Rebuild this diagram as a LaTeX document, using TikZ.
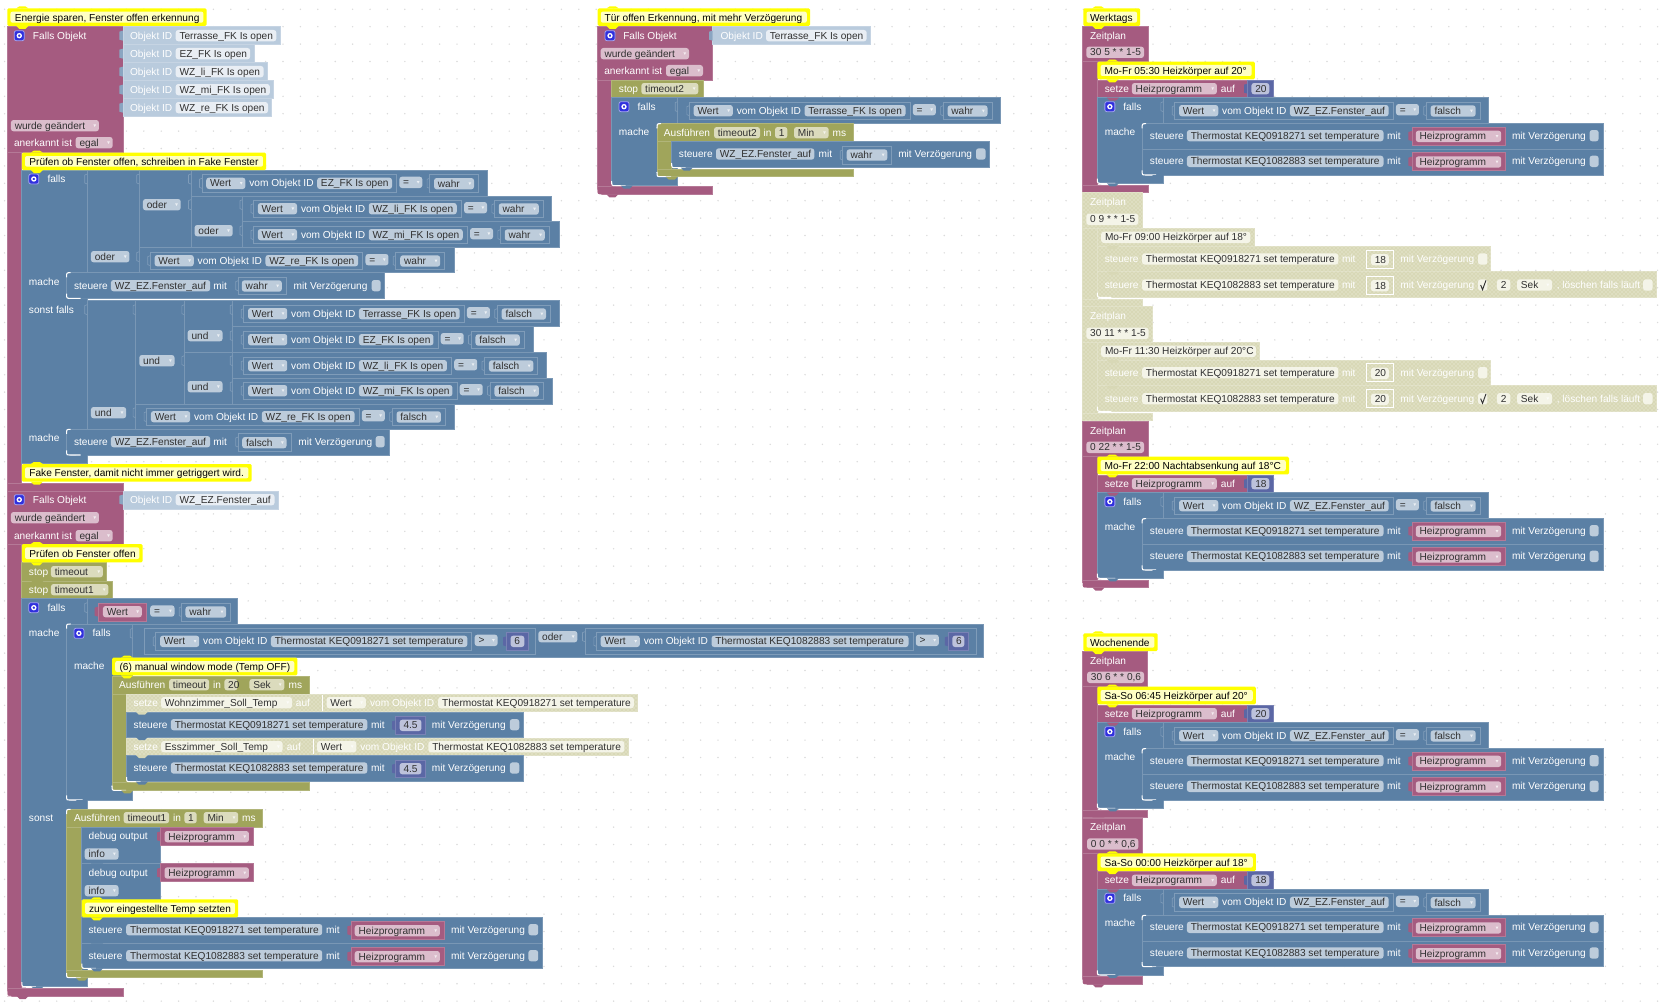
\documentclass[tikz,border=0pt]{standalone}
\usepackage{fontspec}
\usetikzlibrary{patterns}
\setmainfont{Liberation Sans}
\definecolor{pk}{HTML}{A55B80}
\definecolor{bl}{HTML}{5B80A5}
\definecolor{ol}{HTML}{A0A55B}
\definecolor{nm}{HTML}{5B67A5}
\definecolor{oid}{HTML}{B9CBDD}
\definecolor{dis}{HTML}{D8D8B6}
\definecolor{flB}{HTML}{BDCCDB}
\definecolor{flP}{HTML}{DBBDCC}
\definecolor{flO}{HTML}{DBDBBD}
\definecolor{flD}{HTML}{F4F4E8}
\definecolor{flI}{HTML}{E9EEF4}
\definecolor{flN}{HTML}{BDC2DB}
\definecolor{cmY}{HTML}{FFFF00}
\definecolor{cmI}{HTML}{FFFFC4}
\definecolor{ink}{HTML}{303030}
\definecolor{gearc}{HTML}{3030DD}
\colorlet{lin}{bl!78!white}
\tikzset{
  every node/.style={font=\fontsize{7.6}{9}\selectfont},
  tx/.style={anchor=mid west,inner sep=0pt,text=white},
  fx/.style={anchor=mid west,inner sep=0pt,text=ink},
  blk/.style={fill=#1,draw=#1!82!white,line width=.5pt},
  fine/.style={draw=#1,line width=.5pt},
  fld/.style={fill=#1,rounded corners=2pt}
}
\newcount\nc
\newcommand\Nid{\global\advance\nc by 1 }
\newcommand\Bk[5]{\path[blk=#1] (#2,#3) rectangle (#4,#5);}
\newcommand\BD[4]{\path[blk=dis] (#1,#2) rectangle (#3,#4);\fill[pattern=crosshatch dots,pattern color=flD] (#1,#2) rectangle (#3,#4);}
\newcommand\Tx[3]{\Nid\node[tx] (n\the\nc) at (#1,#2) {#3};}
\newcommand\Fl[4]{\path[fld=#1] (#2,#4-17) rectangle (#3,#4+17);}
\newcommand\Fd[5]{\Fl{#1}{#2}{#3}{#4}\Nid\node[fx] (n\the\nc) at ({#2+3.6*\zs},#4) {#5};}
\newcommand\Dd[5]{\Fd{#1}{#2}{#3}{#4}{#5}\fill[white,opacity=.7] ({#3-5.6*\zs},#4-4) -- ({#3-2.8*\zs},#4-4) -- ({#3-4.2*\zs},#4+4) -- cycle;}
\newcommand\Tb[3]{\fill[#1] (#2,#3-15) -- ({#2-3.5*\zs},#3-12) -- ({#2-3.5*\zs},#3+12) -- (#2,#3+15) -- cycle;}
\newcommand\Tk[2]{\draw[lin,line width=.5pt] (#1,#2-15) -- ({#1-2.5*\zs},#2-12) -- ({#1-2.5*\zs},#2+12) -- (#1,#2+15);}
\newcommand\Nt[3]{\fill[#1] ({#2-6*\zs},#3) -- ({#2-3*\zs},#3+9) -- ({#2+3*\zs},#3+9) -- ({#2+6*\zs},#3) -- cycle;}
\newcommand\Wc[3]{\fill[#1] (#2,#3-14) .. controls (#2,#3) .. ({#2+4*\zs},#3) -- ({#2+4*\zs},#3+2) -- ({#2-.6*\zs},#3+2) -- ({#2-.6*\zs},#3-14) -- cycle;}
\newcommand\Rc[4]{\Wc{#1}{#2}{#3}\draw[white,line width=.8pt] (#2,#3-14) .. controls (#2,#3) .. ({#2+4*\zs},#3) -- ({#2+#4*\zs},#3);}
\newcommand\Rt[3]{\fill[#1] (#2,#3+14) .. controls (#2,#3) .. ({#2+4*\zs},#3) -- ({#2+4*\zs},#3-2) -- ({#2-.6*\zs},#3-2) -- ({#2-.6*\zs},#3+14) -- cycle;
  \draw[white,line width=.8pt] (#2,#3+14) .. controls (#2,#3) .. ({#2+4*\zs},#3);}
\newcommand\Gr[2]{\path[fill=gearc,draw=gearc!45!white,line width=.6pt,rounded corners=1.5pt] ({#1-5*\zs},#2-15) rectangle ({#1+5*\zs},#2+15);
  \draw[white,line width=1pt] (#1,#2) circle (1.5pt);}
\newcommand\Cm[6]{\path[fill=cmY,rounded corners=1pt] (#1,#2) rectangle (#3,#4);
  \fill[cmY] ({#1+15*\zs-6*\zs},#2) -- ({#1+15*\zs-3*\zs},#2-6) -- ({#1+15*\zs+3*\zs},#2-6) -- ({#1+15*\zs+6*\zs},#2) -- cycle;
  \Nt{cmY}{#1+15*\zs}{#4}
  \path[fill=cmI,rounded corners=1.5pt] ({#1+3.2*\zs},#2+10) rectangle ({#3-3.2*\zs},#4-10);
  \Nid\node[fx,text=black] (n\the\nc) at ({#1+#6*\zs},{(#2+#4)/2+1}) {#5};}
% condition: row-start x, centre y, object, width px, operator
\newcommand\CndH[5]{%
  \pgfmathsetmacro\oL{#1+126.2*\zs}\pgfmathsetmacro\oR{\oL+#4*\zs}%
  \pgfmathsetmacro\bR{\oR+4.4*\zs}\pgfmathsetmacro\eL{\bR+2.9*\zs}%
  \pgfmathsetmacro\eR{\eL+23*\zs}\pgfmathsetmacro\vL{\eR+11.7*\zs}%
  \draw[fine=lin] ({#1+11*\zs},#2-26) rectangle (\bR,#2+26);
  \Tk{#1+11*\zs}{#2}
  \Dd{flB}{#1+15.3*\zs}{#1+54.5*\zs}{#2}{Wert}
  \Tx{#1+58.2*\zs}{#2}{vom Objekt ID}
  \Fd{flB}{\oL}{\oR}{#2}{#3}
  \Dd{flB}{\eL}{\eR}{#2-3}{#5}}
\newcommand\Cnd[7]{\CndH{#1}{#2}{#3}{#4}{#5}%
  \pgfmathsetmacro\vR{\vL+#7*\zs}%
  \draw[fine=lin] ({\vL-4.4*\zs},#2-26) rectangle ({\vR+4.4*\zs},#2+26);
  \Tk{\vL-4.4*\zs}{#2}
  \Dd{flB}{\vL}{\vR}{#2+1}{#6}}
\newcommand\Num[4]{\Tb{nm}{#1}{#3}\Bk{nm}{#1}{#3-26}{#2}{#3+26}\Fd{flN}{#1+4*\zs}{#2-4*\zs}{#3}{#4}}
\newcommand\PV[4]{\Tb{pk}{#1}{#3}\Bk{pk}{#1}{#3-27}{#2}{#3+27}\Dd{flP}{#1+3.8*\zs}{#2-4.5*\zs}{#3+1}{#4}}
\newcommand\TK{Thermostat KEQ0918271 set temperature}
\newcommand\TL{Thermostat KEQ1082883 set temperature}
\newcommand\FA{WZ\_EZ.Fenster\_auf}
\newcommand\HP{Heizprogramm}
\newcommand\Oid[4]{\Bk{oid}{338}{#1-27}{#2}{#1+27}\Tb{bl!50!oid}{338}{#1}\Tx{357}{#1}{Objekt ID}\Fd{flI}{483}{#3}{#1}{#4}}
% active steuere row in the right column
\newcommand\SA[2]{\pgfmathsetmacro\yc{#1+36}%
  \Bk{bl}{190}{#1}{1405}{#1+77}
  \Tx{210}{\yc}{steuere}\Fd{flB}{308}{826}{\yc}{#2}\Tx{835}{\yc}{mit}
  \PV{901}{1148}{\yc+1}{\HP}
  \Tx{1164}{\yc}{mit Verzögerung}\Fl{flB}{1369}{1393}{\yc}}
% active group: T, head x2, field L, field R, cron, comment R, comment, value
\newcommand\Grp[8]{%
  \Bk{pk}{33}{#1-105}{#2}{#1}
  \Bk{pk}{33}{#1}{72}{#1+370}
  \Bk{pk}{33}{#1+370}{#2}{#1+393}
  \Tx{52}{#1-78}{Zeitplan}
  \Fd{flP}{#3}{#4}{#1-28}{#5}
  \Bk{pk}{72}{#1+55}{468}{#1+108}
  \Tx{91}{#1+81}{setze}\Dd{flP}{163}{387}{#1+81}{\HP}\Tx{397}{#1+81}{auf}
  \Tb{nm}{468}{#1+81}\Bk{nm}{468}{#1+55}{537}{#1+108}\Fd{flN}{478}{525}{#1+81}{#8}
  \Bk{bl}{72}{#1+108}{246}{#1+365}
  \Rc{pk}{72}{#1+365}{18}
  \Bk{bl}{246}{#1+108}{1103}{#1+186}
  \Gr{105}{#1+135}\Tx{140}{#1+135}{falls}
  \Tk{246}{#1+135}
  \Cnd{247}{#1+147}{\FA}{98.7}{=}{falsch}{45}
  \Tx{91}{#1+210}{mache}
  \SA{#1+186}{\TK}
  \Rt{bl}{190}{#1+186}
  \Nt{bl}{232}{#1+263}
  \SA{#1+263}{\TL}
  \Rc{bl}{190}{#1+340}{14}
  \Nt{bl}{232}{#1+340}
  \Nt{bl}{113}{#1+365}
  \Nt{pk}{75}{#1+393}
  \Nt{pk}{113}{#1+108}
  \Cm{72}{#1}{#6}{#1+53}{#7}{7}}
% disabled steuere row
\newcommand\DS[6]{%
  \BD{72}{#1}{#6}{#1+#2}
  \Tx{91}{#3}{steuere}\Fd{flD}{190}{707}{#3}{#4}\Tx{716}{#3}{mit}
  \draw[fine=white] (780,#3-27) rectangle (851,#3+27);
  \Fd{flD}{793}{840}{#3+2}{#5}
  \Tx{870}{#3}{mit Verzögerung}\Fl{flD}{1075}{1100}{#3}}
\newcommand\DG[9]{% T header-x2 fieldR cron commentR comment val row1y row2y
  \BD{33}{#1-107}{#2}{#1}
  \BD{33}{#1}{72}{#1+212}
  \BD{33}{#1+212}{#2}{#1+235}
  \Tx{52}{#1-80}{Zeitplan}
  \Fd{flD}{43}{#3}{#1-27}{#4}
  \BD{72}{#1}{#5}{#1+53}
  \Fd{flD}{82}{#5-10}{#1+27}{#6}
  \DS{#1+55}{75}{#8}{\TK}{#7}{1108}
  \DS{#1+130}{77}{#9}{\TL}{#7}{1545}
  \draw[line width=.7pt,ink] (1082,#9) -- (1087,#9+14) -- (1096,#9-14);
  \Fd{flD}{1125}{1160}{#9}{2}
  \Dd{flD}{1178}{1270}{#9}{Sek}
  \Tx{1282}{#9}{, löschen falls läuft}
  \Fl{flD}{1510}{1535}{#9}
  \Rc{dis}{72}{#1+207}{14}
  \Nt{dis}{113}{#1+53}\Nt{dis}{113}{#1+130}\Nt{dis}{75}{#1+235}}
\begin{document}
\begin{tikzpicture}[x=.75pt,y=-.75pt]
\useasboundingbox (0,0) rectangle (1665,1006);
\fill[white] (0,0) rectangle (1665,1006);
\foreach \i in {0,...,95}{\foreach \j in {0,...,57}{\fill[black!14] ({4.6+\i*17.4},{9.3+\j*17.4}) circle (.8);}}

% ---------- left column, upper part
\begin{scope}[x=.27273pt,y=-.25pt]\def\zs{2.75}
\Bk{pk}{20}{80}{60}{2980}
\Bk{pk}{20}{80}{338}{458}
\Oid{107}{771}{760}{Terrasse\_FK Is open}
\Oid{161}{699}{688}{EZ\_FK Is open}
\Oid{215}{735}{725}{WZ\_li\_FK Is open}
\Oid{269}{752}{742}{WZ\_mi\_FK Is open}
\Oid{323}{747}{737}{WZ\_re\_FK Is open}
\Gr{53}{107}\Tx{90}{107}{Falls Objekt}
\Dd{flP}{30}{272}{377}{wurde geändert}
\Tx{38}{428}{anerkannt ist}\Dd{flP}{208}{310}{428}{egal}
\Bk{bl}{60}{510}{240}{1390}
\Bk{bl}{240}{510}{383}{818}
\Bk{bl}{383}{510}{525}{743}
\Bk{bl}{525}{510}{1340}{588}
\Bk{bl}{525}{588}{667}{743}
\Bk{bl}{667}{588}{1517}{665}
\Bk{bl}{667}{665}{1537}{743}
\Bk{bl}{383}{743}{1248}{818}
\Gr{93}{537}\Tx{130}{537}{falls}
\Tk{240}{537}\Tk{383}{537}\Tk{525}{537}\Tk{667}{614}\Tk{525}{614}\Tk{383}{770}\Tk{667}{692}
\Cnd{525}{550}{EZ\_FK Is open}{74.9}{=}{wahr}{40}
\Cnd{667}{626}{WZ\_li\_FK Is open}{88}{=}{wahr}{40}
\Cnd{667}{704}{WZ\_mi\_FK Is open}{94}{=}{wahr}{40}
\Cnd{383}{782}{WZ\_re\_FK Is open}{92.7}{=}{wahr}{40}
\Dd{flB}{393}{497}{614}{oder}
\Dd{flB}{535}{640}{692}{oder}
\Dd{flB}{250}{356}{770}{oder}
\Tx{79}{845}{mache}
\Bk{bl}{183}{818}{1058}{895}
\Nt{bl}{225}{895}
\Rt{bl}{183}{818}
\Rc{bl}{183}{895}{14}
\Tx{203}{857}{steuere}\Fd{flB}{305}{578}{857}{\FA}\Tx{586}{857}{mit}
\draw[fine=lin] (655,832) rectangle (788,884);
\Tk{655}{857}
\Dd{flB}{665}{775}{858}{wahr}
\Tx{807}{857}{mit Verzögerung}\Fl{flB}{1022}{1047}{857}
\Cm{20}{25}{568}{78}{Energie sparen, Fenster offen erkennung}{7.3}
\Cm{60}{458}{732}{510}{Prüfen ob Fenster offen, schreiben in Fake Fenster}{7.3}
\end{scope}

% ---------- left column, middle part
\begin{scope}[shift={(0,290)},x=.27273pt,y=-.25pt]\def\zs{2.75}
\Tx{79}{59}{sonst falls}
\Bk{bl}{240}{32}{373}{418}
\Bk{bl}{373}{32}{507}{342}
\Bk{bl}{507}{32}{640}{187}
\Bk{bl}{507}{187}{640}{342}
\Bk{bl}{640}{32}{1538}{110}
\Bk{bl}{640}{110}{1467}{187}
\Bk{bl}{640}{187}{1503}{265}
\Bk{bl}{640}{265}{1520}{342}
\Bk{bl}{373}{342}{1250}{418}
\Tk{240}{59}\Tk{373}{59}\Tk{507}{59}\Tk{640}{59}\Tk{640}{137}\Tk{507}{212}\Tk{640}{212}\Tk{640}{290}\Tk{373}{368}
\Cnd{640}{71}{Terrasse\_FK Is open}{100.7}{=}{falsch}{44.4}
\Cnd{640}{149}{EZ\_FK Is open}{74.5}{=}{falsch}{44.4}
\Cnd{640}{227}{WZ\_li\_FK Is open}{88}{=}{falsch}{44.4}
\Cnd{640}{302}{WZ\_mi\_FK Is open}{93.5}{=}{falsch}{44.4}
\Cnd{373}{380}{WZ\_re\_FK Is open}{92.7}{=}{falsch}{44.4}
\Dd{flB}{516}{612}{137}{und}
\Dd{flB}{516}{612}{290}{und}
\Dd{flB}{383}{480}{212}{und}
\Dd{flB}{250}{347}{368}{und}
\Tx{79}{443}{mache}
\Bk{bl}{183}{418}{1070}{495}
\Nt{bl}{225}{495}
\Rt{bl}{183}{418}
\Rc{bl}{183}{495}{14}
\Tx{203}{455}{steuere}\Fd{flB}{305}{578}{455}{\FA}\Tx{586}{455}{mit}
\draw[fine=lin] (655,430) rectangle (800,484);
\Tk{655}{456}
\Dd{flB}{666}{788}{458}{falsch}
\Tx{820}{455}{mit Verzögerung}\Fl{flB}{1033}{1058}{455}
\Bk{pk}{20}{580}{338}{603}
\Bk{pk}{20}{603}{338}{762}
\Bk{oid}{338}{603}{765}{657}\Tb{bl!50!oid}{338}{629}
\Tx{357}{629}{Objekt ID}\Fd{flI}{483}{755}{629}{\FA}
\Gr{53}{629}\Tx{90}{629}{Falls Objekt}
\Dd{flP}{30}{272}{683}{wurde geändert}
\Tx{38}{737}{anerkannt ist}\Dd{flP}{208}{310}{737}{egal}
\Bk{ol}{60}{818}{293}{873}
\Tx{79}{845}{stop}\Dd{flO}{140}{283}{845}{timeout}
\Bk{ol}{60}{873}{310}{925}
\Tx{79}{899}{stop}\Dd{flO}{140}{298}{899}{timeout1}
\Nt{ol}{103}{873}\Nt{ol}{103}{925}
\Cm{60}{522}{692}{575}{Fake Fenster, damit nicht immer getriggert wird.}{7.3}
\Cm{60}{762}{392}{817}{Prüfen ob Fenster offen}{7.3}
\end{scope}

% ---------- left column, lower part
\begin{scope}[shift={(0,600)},x=.27273pt,y=-.25pt]\def\zs{2.75}
\Bk{bl}{60}{-5}{240}{1160}
\Bk{bl}{240}{-5}{654}{72}
\Gr{93}{23}\Tx{130}{23}{falls}
\Tk{240}{23}
\Tb{pk}{270}{35}\Bk{pk}{270}{10}{402}{63}\Dd{flP}{283}{390}{35}{Wert}
\Dd{flB}{413}{480}{33}{=}
\draw[fine=lin] (500,10) rectangle (634,63);
\Tk{500}{35}
\Dd{flB}{510}{622}{36}{wahr}
\Tx{79}{98}{mache}
\Bk{bl}{183}{72}{365}{600}
\Bk{bl}{365}{72}{2704}{173}
\Rt{bl}{183}{72}
\Gr{217}{100}\Tx{254}{100}{falls}
\Tk{365}{100}
\draw[fine=lin] (397,85) rectangle (1472,163);
\CndH{398}{124}{\TK}{196.4}{>}
\Num{1393}{1453}{124}{6}
\Tx{203}{197}{mache}
\Bk{ol}{308}{228}{850}{282}
\Bk{ol}{308}{282}{348}{548}
\Bk{ol}{308}{548}{850}{571}
\Tx{327}{254}{Ausführen}\Fd{flO}{465}{575}{254}{timeout}\Tx{585}{254}{in}
\Fd{flO}{617}{653}{254}{20}\Dd{flO}{686}{782}{254}{Sek}\Tx{793}{254}{ms}
\BD{348}{282}{1753}{335}
\Tx{367}{308}{setze}\Dd{flD}{443}{803}{308}{Wohnzimmer\_Soll\_Temp}\Tx{813}{308}{auf}
\draw[white,line width=.6pt] (887,285) -- (887,332);
\Dd{flD}{898}{1006}{308}{Wert}\Tx{1017}{308}{vom Objekt ID}\Fd{flD}{1205}{1743}{308}{\TK}
\Bk{bl}{348}{336}{1440}{411}
\Tx{367}{374}{steuere}\Fd{flB}{470}{1010}{374}{\TK}\Tx{1020}{374}{mit}
\Num{1088}{1170}{376}{4.5}
\Tx{1187}{374}{mit Verzögerung}\Fl{flB}{1402}{1428}{374}
\BD{348}{414}{1727}{465}
\Tx{367}{440}{setze}\Dd{flD}{443}{777}{440}{Esszimmer\_Soll\_Temp}\Tx{788}{440}{auf}
\draw[white,line width=.6pt] (862,417) -- (862,462);
\Dd{flD}{872}{980}{440}{Wert}\Tx{990}{440}{vom Objekt ID}\Fd{flD}{1178}{1717}{440}{\TL}
\Bk{bl}{348}{467}{1440}{545}
\Tx{367}{504}{steuere}\Fd{flB}{470}{1010}{504}{\TL}\Tx{1020}{504}{mit}
\Num{1088}{1170}{506}{4.5}
\Tx{1187}{504}{mit Verzögerung}\Fl{flB}{1402}{1428}{504}
\Nt{dis}{390}{335}\Nt{bl}{390}{411}\Nt{dis}{390}{465}
\Rc{ol}{348}{545}{14}\Nt{bl}{390}{545}
\Rc{bl}{308}{571}{14}\Nt{ol}{350}{571}
\Rc{bl}{183}{600}{16}\Nt{bl}{225}{600}
\Tx{79}{653}{sonst}
\Bk{ol}{183}{628}{722}{682}
\Bk{ol}{183}{682}{225}{1110}
\Bk{ol}{183}{1110}{722}{1133}
\Rt{bl}{183}{628}
\Tx{203}{653}{Ausführen}\Fd{flO}{340}{465}{653}{timeout1}\Tx{475}{653}{in}
\Fd{flO}{507}{541}{653}{1}\Dd{flO}{560}{655}{653}{Min}\Tx{665}{653}{ms}
\Bk{bl}{225}{682}{442}{790}
\Tx{243}{708}{debug output}\PV{442}{697}{709}{\HP}
\Dd{flB}{233}{326}{762}{info}
\Bk{bl}{225}{790}{442}{898}
\Tx{243}{818}{debug output}\PV{442}{697}{818}{\HP}
\Dd{flB}{233}{326}{872}{info}
\Bk{bl}{225}{952}{1492}{1030}
\Tx{243}{989}{steuere}\Fd{flB}{347}{886}{989}{\TK}\Tx{896}{989}{mit}
\PV{965}{1222}{991}{\HP}
\Tx{1240}{989}{mit Verzögerung}\Fl{flB}{1453}{1480}{989}
\Bk{bl}{225}{1030}{1492}{1105}
\Tx{243}{1067}{steuere}\Fd{flB}{347}{886}{1067}{\TL}\Tx{896}{1067}{mit}
\PV{965}{1222}{1069}{\HP}
\Tx{1240}{1067}{mit Verzögerung}\Fl{flB}{1453}{1480}{1067}
\Nt{bl}{267}{790}\Nt{bl}{267}{1030}
\Rc{ol}{225}{1105}{14}\Nt{bl}{267}{1105}
\Rc{bl}{183}{1133}{14}\Nt{ol}{225}{1133}
\Rc{pk}{60}{1160}{14}\Nt{bl}{103}{1160}
\Bk{pk}{20}{1165}{338}{1188}
\Wc{white}{20}{1188}
\Nt{pk}{62}{1188}
\Cm{308}{173}{818}{226}{(6) manual window mode (Temp OFF)}{7.3}
\Cm{225}{898}{655}{952}{zuvor eingestellte Temp setzten}{7}
\end{scope}

\begin{scope}[shift={(500,600)},x=.25pt,y=-.25pt]\def\zs{3}
\Dd{flB}{115}{232}{110}{oder}
\draw[fine=lin] (255,85) rectangle (1430,163);
\Tk{255}{110}
\CndH{256}{124}{\TL}{197}{>}
\Num{1345}{1405}{124}{6}
\end{scope}

% ---------- middle
\begin{scope}[shift={(560,0)},x=.25pt,y=-.25pt]\def\zs{3}
\Bk{pk}{112}{80}{458}{240}
\Bk{pk}{112}{240}{155}{565}
\Bk{pk}{112}{560}{458}{583}
\Wc{white}{112}{583}
\Bk{oid}{458}{80}{932}{134}\Tb{bl!50!oid}{458}{107}
\Tx{481}{107}{Objekt ID}\Fd{flI}{618}{920}{107}{Terrasse\_FK Is open}
\Gr{150}{107}\Tx{189}{107}{Falls Objekt}
\Dd{flP}{122}{387}{161}{wurde geändert}
\Tx{132}{212}{anerkannt ist}\Dd{flP}{318}{429}{212}{egal}
\Bk{ol}{155}{240}{429}{293}
\Tx{176}{266}{stop}\Dd{flO}{244}{415}{266}{timeout2}
\Nt{ol}{200}{293}
\Bk{bl}{155}{293}{353}{557}
\Bk{bl}{353}{293}{1320}{371}
\Gr{192}{320}\Tx{232}{320}{falls}
\Tk{353}{320}
\Cnd{355}{332}{Terrasse\_FK Is open}{101}{=}{wahr}{40}
\Tx{176}{395}{mache}
\Bk{ol}{291}{371}{880}{425}
\Bk{ol}{291}{425}{335}{507}
\Bk{ol}{291}{507}{880}{530}
\Rt{bl}{291}{371}
\Tx{311}{398}{Ausführen}\Fd{flO}{462}{600}{398}{timeout2}\Tx{610}{398}{in}
\Fd{flO}{645}{682}{398}{1}\Dd{flO}{702}{806}{398}{Min}\Tx{817}{398}{ms}
\Bk{bl}{335}{425}{1288}{503}
\Tx{356}{462}{steuere}\Fd{flB}{468}{763}{462}{\FA}\Tx{775}{462}{mit}
\draw[fine=lin] (848,438) rectangle (995,493);
\Tk{848}{465}
\Dd{flB}{860}{982}{465}{wahr}
\Tx{1014}{462}{mit Verzögerung}\Fl{flB}{1248}{1277}{462}
\Rc{ol}{335}{503}{14}\Nt{bl}{380}{503}
\Rc{bl}{291}{530}{14}\Nt{ol}{335}{530}
\Rc{pk}{155}{557}{14}\Nt{bl}{200}{557}
\Nt{pk}{157}{583}
\Cm{113}{25}{750}{78}{Tür offen Erkennung, mit mehr Verzögerung}{6.7}
\end{scope}

% ---------- right column
\begin{scope}[shift={(1070,0)},x=.28463pt,y=-.25pt]\def\zs{2.635}
\Grp{185}{207}{43}{195}{30 5 * * 1-5}{487}{Mo-Fr 05:30 Heizkörper auf 20°}{20}
\DG{685}{190}{180}{0 9 * * 1-5}{485}{Mo-Fr 09:00 Heizkörper auf 18°}{18}{777}{855}
\Cm{35}{25}{185}{78}{Werktags}{6.5}
\end{scope}
\begin{scope}[shift={(1070,300)},x=.28463pt,y=-.25pt]\def\zs{2.635}
\DG{127}{218}{207}{30 11 * * 1-5}{500}{Mo-Fr 11:30 Heizkörper auf 20°C}{20}{218}{296}
\Grp{470}{207}{43}{195}{0 22 * * 1-5}{577}{Mo-Fr 22:00 Nachtabsenkung auf 18°C}{18}
\Wc{white}{33}{863}
\end{scope}
\begin{scope}[shift={(1070,620)},x=.28463pt,y=-.25pt]\def\zs{2.635}
\Grp{200}{205}{45}{195}{30 6 * * 0,6}{490}{Sa-So 06:45 Heizkörper auf 20°}{20}
\Grp{700}{190}{45}{180}{0 0 * * 0,6}{490}{Sa-So 00:00 Heizkörper auf 18°}{18}
\Wc{white}{33}{1093}
\Cm{35}{40}{231}{93}{Wochenende}{6.5}
\end{scope}
\end{tikzpicture}
\end{document}
